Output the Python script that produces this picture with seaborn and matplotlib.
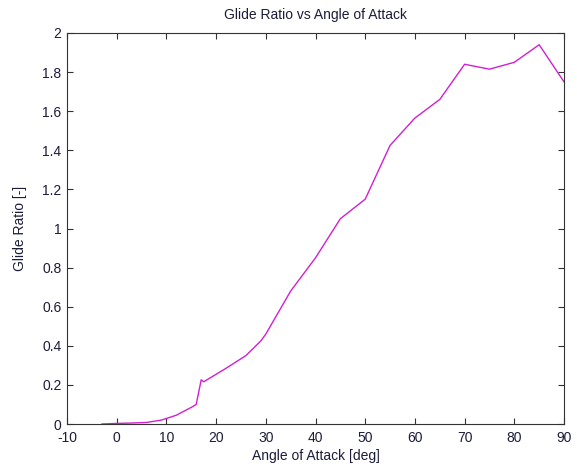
import numpy as np
import pandas as pd
import matplotlib
matplotlib.use("Agg")
import matplotlib.pyplot as plt
import seaborn as sns

# values
aoa = [-3, 0, 3, 6, 9, 12, 15, 16, 17, 17.5, 22, 26, 29, 30, 35, 40, 45, 50, 55, 60, 65, 70, 75, 80, 85, 90]
glide = [0.0, 0.003, 0.005, 0.008, 0.02, 0.045, 0.085, 0.1, 0.226, 0.216, 0.285, 0.35, 0.425, 0.46,
         0.68, 0.85, 1.05, 1.15, 1.425, 1.565, 1.66, 1.84, 1.815, 1.85, 1.94, 1.75]
xticks = [-10, 0, 10, 20, 30, 40, 50, 60, 70, 80, 90]
yticks = [0, 0.2, 0.4, 0.6, 0.8, 1, 1.2, 1.4, 1.6, 1.8, 2]
ylabels = ["0", "0.2", "0.4", "0.6", "0.8", "1", "1.2", "1.4", "1.6", "1.8", "2"]

df = pd.DataFrame({"aoa": aoa, "glide": glide})

sns.set_style("ticks")
plt.rcParams["font.family"] = ["Liberation Sans", "DejaVu Sans"]
txt = "#1c1c3a"

fig = plt.figure(figsize=(5.77, 4.68), dpi=100)
ax = fig.add_axes([0.1161, 0.094, 0.8614, 0.8355])
sns.lineplot(data=df, x="aoa", y="glide", color="#d020d0", linewidth=1.0, ax=ax, sort=False)

ax.set_xlim(-10, 90)
ax.set_ylim(0, 2)
ax.set_xticks(xticks)
ax.set_xticklabels([str(t) for t in xticks], fontsize=10)
ax.set_yticks(yticks)
ax.set_yticklabels(ylabels, fontsize=10)
ax.tick_params(direction="in", top=True, right=True, length=4, width=0.8,
               color="#333333", labelcolor=txt)
ax.tick_params(axis="x", pad=5)
ax.tick_params(axis="y", pad=4)
for s in ax.spines.values():
    s.set_visible(True)
    s.set_linewidth(0.8)
    s.set_color("#333333")

ax.set_title("Glide Ratio vs Angle of Attack", fontsize=10, pad=10, color=txt)
ax.set_xlabel("Angle of Attack [deg]", fontsize=10, labelpad=3, color=txt)
ax.set_ylabel("Glide Ratio [-]", fontsize=10, labelpad=11, color=txt)

fig.savefig("out.png", dpi=100)
